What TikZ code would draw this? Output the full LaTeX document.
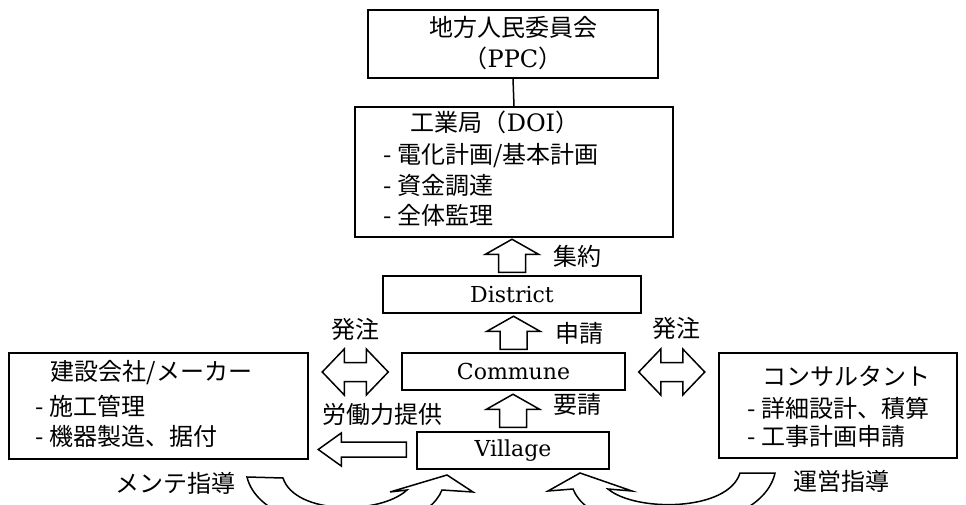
\documentclass[tikz,border=0pt]{standalone}
\usepackage{fontspec}
\setmainfont{DejaVu Serif}
\newfontfamily\cj{Noto Sans CJK JP}
\usetikzlibrary{calc}
\begin{document}
\begin{tikzpicture}[x=1pt,y=-1pt,line width=1.5pt,
  box/.style={draw,line width=1.5pt,inner sep=0pt},
  cjt/.style={inner sep=0pt,font=\cj\fontsize{24}{28}\selectfont,text height=18pt,text depth=4pt},
  lat/.style={font=\fontsize{22}{26}\selectfont},
  blk/.style={draw,line width=1.5pt,line join=miter,fill=white},
  uparr/.pic={\draw[blk] (-13.5,-3) -- (-13.5,-21) -- (-26.5,-21) -- (0,-36) -- (26.5,-21) -- (13.5,-21) -- (13.5,-3) -- cycle;},
  dblarr/.pic={\draw[blk] (-33,0) -- (-11,-23) -- (-11,-9.5) -- (11,-9.5) -- (11,-23) -- (33,0) -- (11,23) -- (11,9.5) -- (-11,9.5) -- (-11,23) -- cycle;},
  leftarr/.pic={\draw[blk] (0,-7.5) -- (-65,-7.5) -- (-65,-16.5) -- (-88,0) -- (-65,16.5) -- (-65,7.5) -- (0,7.5) -- cycle;}
]
\useasboundingbox (0,0) rectangle (966,505);
\clip (0,0) rectangle (966,505);

% boxes
\node[box,minimum width=290pt,minimum height=68pt] (ppc) at (513,44) {};
\node[cjt] (ppct1) at (513,30) {地方人民委員会};
\node[cjt] (ppct2) at (513,61) {（{\rmfamily PPC}）};

\node[box,minimum width=318pt,minimum height=130pt] (doi) at (514,172) {};
\node[cjt,anchor=west] (doit) at (410,125) {工業局（{\rmfamily DOI}）};
\node[cjt,anchor=west] (doi1) at (383,157) {- 電化計画/基本計画};
\node[cjt,anchor=west] (doi2) at (383,188) {- 資金調達};
\node[cjt,anchor=west] (doi3) at (383,218) {- 全体監理};

\node[box,lat,minimum width=258pt,minimum height=37pt] (district) at (512,294.5) {District};
\node[box,lat,minimum width=223pt,minimum height=37pt] (commune) at (513.5,371.5) {Commune};
\node[box,lat,minimum width=192pt,minimum height=37pt] (village) at (513,450.5) {Village};

\node[box,minimum width=299pt,minimum height=106pt] (cons) at (158.5,406) {};
\node[cjt,anchor=west] (const) at (50,373) {建設会社/メーカー};
\node[cjt,anchor=west] (cons1) at (35,408) {- 施工管理};
\node[cjt,anchor=west] (cons2) at (35,438) {- 機器製造、据付};

\node[box,minimum width=238pt,minimum height=105pt] (consul) at (838,405.5) {};
\node[cjt,anchor=west] (consult) at (762,378) {コンサルタント};
\node[cjt,anchor=west] (consul1) at (747,410) {- 詳細設計、積算};
\node[cjt,anchor=west] (consul2) at (747,438) {- 工事計画申請};

% connector
\draw (ppc.south) -- (doi.north);

% up arrows
\pic at (district.north) {uparr};
\pic at (commune.north) {uparr};
\pic at ($(village.north)+(0,-1)$) {uparr};

% double arrows
\pic at ($(commune.west)+(-46,0.5)$) {dblarr};
\pic at ($(commune.east)+(46,0.5)$) {dblarr};

% left arrow
\pic at ($(village.west)+(-10,-1)$) {leftarr};

% curved arrows
\draw[blk] (247,477) -- (283,478) .. controls (295,515) and (380,515) .. (407,490)
  -- (390,492) -- (447,475) -- (473,492) -- (442,490)
  .. controls (420,545) and (262,540) .. cycle;
\draw[blk] (775,473) -- (740,473) .. controls (728,512) and (635,512) .. (608,489)
  -- (632,491) -- (580,473) -- (548,491) -- (573,489)
  .. controls (595,545) and (760,540) .. cycle;

% labels
\node[cjt,anchor=west] (l1) at (553,258) {集約};
\node[cjt,anchor=west] (l2) at (555,335) {申請};
\node[cjt,anchor=west] (l3) at (553,406) {要請};
\node[cjt] (l4) at (355,331) {発注};
\node[cjt] (l5) at (676,330) {発注};
\node[cjt,anchor=west] (l6) at (322,416) {労働力提供};
\node[cjt,anchor=west] (l7) at (115,485) {メンテ指導};
\node[cjt,anchor=west] (l8) at (793,483) {運営指導};
\end{tikzpicture}
\end{document}
